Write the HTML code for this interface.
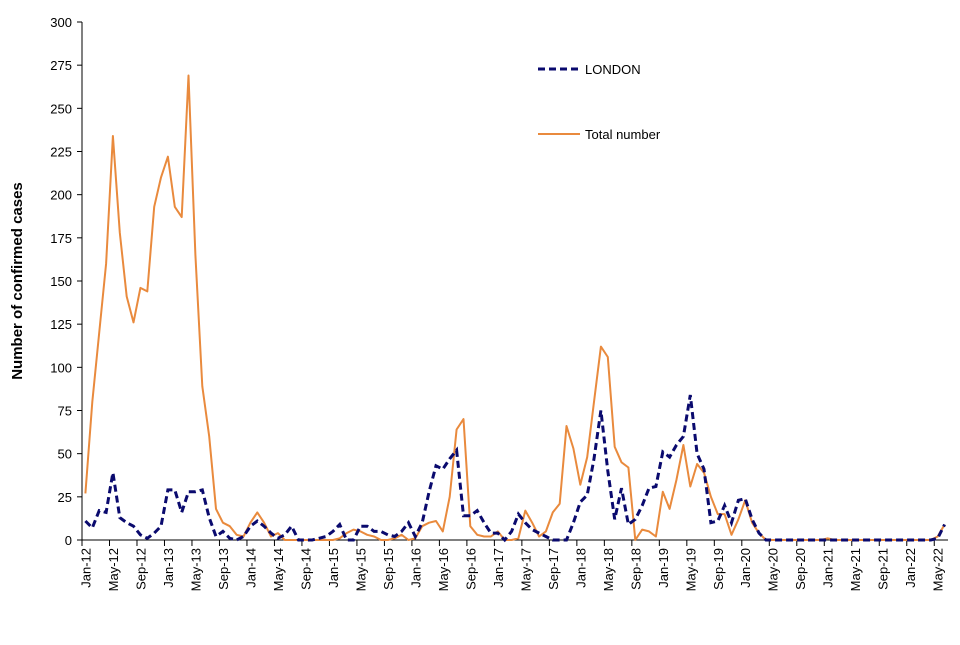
<!DOCTYPE html>
<html><head><meta charset="utf-8"><style>
body{margin:0;background:#fff;font-family:"Liberation Sans",Arial,sans-serif}
svg text{font-family:"Liberation Sans",Arial,sans-serif}
</style></head><body>
<svg id="chart" width="960" height="640" viewBox="0 0 960 640" xmlns="http://www.w3.org/2000/svg">
<g id="yaxis"></g>
<g id="xaxis"></g>
<text transform="translate(22,281) rotate(-90)" text-anchor="middle" font-size="15" font-weight="bold" fill="#000">Number of confirmed cases</text>
<g>
<g>
<line x1="538" y1="69" x2="580" y2="69" stroke="#0a0a6e" stroke-width="3" stroke-dasharray="7,4"/>
<text x="585" y="74" font-size="13" fill="#000">LONDON</text></g>
<g>
<line x1="538" y1="134" x2="580" y2="134" stroke="#e98a3d" stroke-width="2"/>
<text x="585" y="139" font-size="13" fill="#000">Total number</text></g>
</g>
<g id="series"></g>
</svg>
<script>
const monthNames=["Jan","Feb","Mar","Apr","May","Jun","Jul","Aug","Sep","Oct","Nov","Dec"];
const yTicks=[0,25,50,75,100,125,150,175,200,225,250,275,300];
const totalCases=[27,80,120,160,234,178,141,126,146,144,193,210,222,193,187,269,165,89,60,18,10,8,3,2,10,16,10,2,4,0,0,0,0,0,0,0,0,1,4,6,5,3,2,0,0,1,3,0,1,8,10,11,5,25,64,70,8,3,2,2,5,0,0,1,17,10,2,5,16,21,66,53,32,48,80,112,106,54,45,42,0,6,5,2,28,18,35,55,31,44,39,25,15,15,3,12,23,10,4,0,0,0,0,0,0,0,0,0,1,0,0,0,0,0,0,0,0,0,0,0,0,0,0,0,2,9];
const londonCases=[11,7,17,16,39,13,10,8,3,1,4,8,29,29,16,28,28,29,13,2,5,1,0,2,8,11,8,4,1,3,8,0,0,0,1,2,5,9,0,0,8,8,5,5,3,2,5,10,2,10,28,43,41,47,52,14,14,17,10,4,4,0,5,15,10,6,4,2,0,0,0,10,22,26,47,75,40,12,30,9,12,20,30,31,51,48,55,60,84,50,41,10,11,20,10,23,24,12,4,0,0,0,0,0,0,0,0,0,0,0,0,0,0,0,0,0,0,0,0,0,0,0,0,0,1,9];
const NS="http://www.w3.org/2000/svg";
const left=82,right=948,y0=540,yTop=22,yMax=300;
const n=totalCases.length;
const bw=(right-left)/n;
const xS=i=>left+bw*(i+0.5);
const yS=v=>y0-(v/yMax)*(y0-yTop);
function mk(tag,attrs,parent){const e=document.createElementNS(NS,tag);for(const k in attrs)e.setAttribute(k,attrs[k]);parent.appendChild(e);return e;}
const ya=document.getElementById('yaxis'),xa=document.getElementById('xaxis'),sg=document.getElementById('series');
const yl=mk('line',{x1:left,y1:yTop,x2:left,y2:y0,stroke:'#000','stroke-width':1},ya);


yTicks.forEach(t=>{
 const tk=mk('line',{x1:left-5,x2:left,y1:yS(t),y2:yS(t),stroke:'#000'},ya);
 
 
 const tx=mk('text',{x:left-10,y:yS(t)+5,'text-anchor':'end','font-size':13},ya);
 
 
 tx.textContent=t;
});
const xl=mk('line',{x1:left,y1:y0,x2:right,y2:y0,stroke:'#000','stroke-width':1},xa);


for(let i=0;i<n;i++){
 if(i%4===0){
  const tk=mk('line',{x1:left+bw*i,x2:left+bw*i,y1:y0,y2:y0+6,stroke:'#000'},xa);
  
  
  const lab=monthNames[i%12]+'-'+(12+Math.floor(i/12));
  const tx=mk('text',{transform:`translate(${xS(i)+5},${y0+8}) rotate(-90)`,'text-anchor':'end','font-size':13},xa);
  
  
  tx.textContent=lab;
 }
}
function path(arr){return arr.map((v,i)=>(i?'L':'M')+xS(i).toFixed(1)+','+yS(v).toFixed(1)).join('');}
const pt=mk('path',{d:path(totalCases),fill:'none',stroke:'#e98a3d','stroke-width':2,'stroke-linejoin':'round'},sg);


const pl=mk('path',{d:path(londonCases),fill:'none',stroke:'#0a0a6e','stroke-width':3,'stroke-dasharray':'7,4'},sg);


</script>
</body></html>
